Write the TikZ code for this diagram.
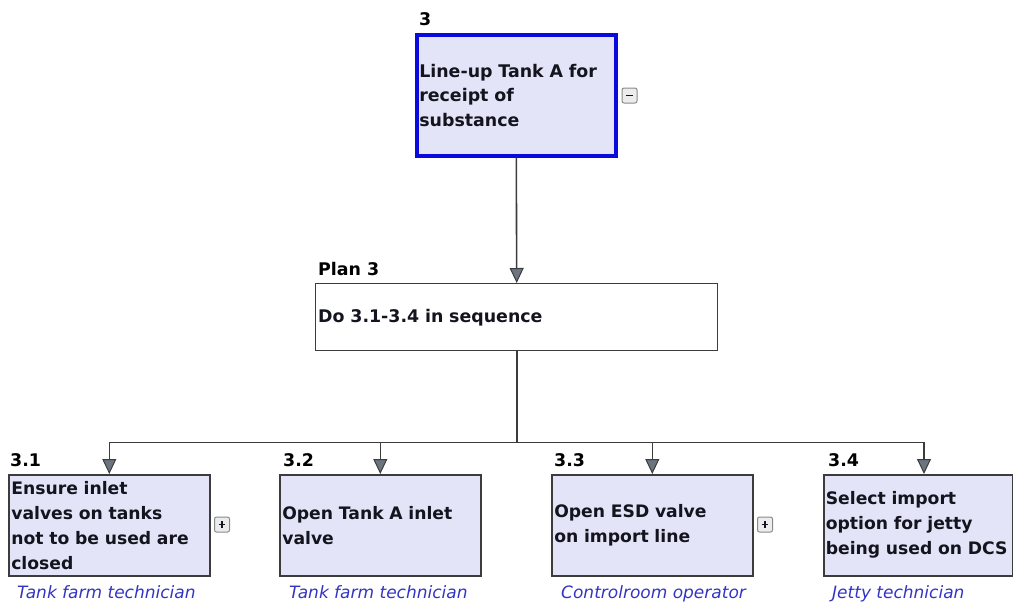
\documentclass[tikz,border=0pt]{standalone}
\usepackage{fontspec}
\setmainfont{DejaVu Sans}
\usetikzlibrary{arrows.meta,calc}
\definecolor{boxfill}{HTML}{E4E4F8}
\definecolor{boxline}{HTML}{3C3C3C}
\definecolor{topline}{HTML}{0A0ADC}
\definecolor{ink}{HTML}{14141E}
\definecolor{rolecol}{HTML}{3434C4}
\definecolor{tipgray}{HTML}{6C7480}
\definecolor{iconfill}{HTML}{ECECEC}
\definecolor{iconline}{HTML}{8A8A8A}
\tikzset{
  task/.style={draw=boxline, line width=1.6pt, fill=boxfill, anchor=north west,
    inner xsep=2.5pt, inner ysep=0pt, align=left, text=ink,
    font=\bfseries\fontsize{17.2}{25}\selectfont},
  childbox/.style={task, text width=196pt, minimum height=101pt},
  planbox/.style={draw=boxline, line width=1.4pt, fill=white, anchor=north west,
    inner xsep=2.5pt, inner ysep=0pt, align=left, text=ink, text width=397pt,
    minimum height=67pt, font=\bfseries\fontsize{17.4}{25}\selectfont},
  numlabel/.style={anchor=base west, inner sep=0pt, text=black,
    font=\bfseries\fontsize{17.4}{20}\selectfont},
  role/.style={anchor=base west, inner sep=0pt, text=rolecol,
    font=\itshape\fontsize{17}{20}\selectfont},
  link/.style={draw=boxline, line width=1.6pt},
  arrowlink/.style={link, -{Triangle[width=14pt,length=15pt,fill=tipgray,line width=1pt]}},
  toggle/.style={draw=iconline, fill=iconfill, line width=1pt, rounded corners=2pt,
    minimum size=15pt, inner sep=0pt, text=ink},
}
\begin{document}
\begin{tikzpicture}[x=1pt,y=-1pt]
\useasboundingbox (0,0) rectangle (1013,603);

% top task
\node[task, draw=topline, line width=3.6pt, text width=194pt, minimum height=121pt,
  font=\bfseries\fontsize{17.4}{24.5}\selectfont]
  (t3) at (415,33) {Line-up Tank A for\\receipt of\\substance};
\node[numlabel] (t3num) at (419,25) {3};
\node[toggle] (t3tog) at (629.5,95.5) {};
\draw[ink, line width=1.5pt] ($(t3tog.center)+(-3.5,0)$) -- ($(t3tog.center)+(3.5,0)$);

% plan
\node[planbox] (plan) at (315,283) {Do 3.1-3.4 in sequence};
\node[numlabel] (plannum) at (318,275) {Plan 3};

% subtasks
\node[childbox] (c1) at (8,474) {Ensure inlet\\valves on tanks\\not to be used are\\closed};
\node[childbox] (c2) at (279,474) {Open Tank A inlet\\valve};
\node[childbox] (c3) at (551,474) {Open ESD valve\\on import line};
\node[task, inner xsep=2pt, text width=185pt, minimum height=101pt] (c4) at (823,474)
  {Select import\\option for jetty\\being used on DCS};

\node[numlabel] (n1) at (10,466) {3.1};
\node[numlabel] (n2) at (283,466) {3.2};
\node[numlabel] (n3) at (554,466) {3.3};
\node[numlabel] (n4) at (828,466) {3.4};

\node[role] (r1) at (17,598.5) {Tank farm technician};
\node[role] (r2) at (289,598.5) {Tank farm technician};
\node[role] (r3) at (561,598.5) {Controlroom operator};
\node[role] (r4) at (832,598.5) {Jetty technician};

\node[toggle] (c1tog) at (222,524.5) {};
\node[toggle] (c3tog) at (765,524.5) {};
\foreach \t in {c1tog,c3tog}{
  \draw[ink, line width=1.4pt] ($(\t.center)+(-3.4,0)$) -- ($(\t.center)+(3.4,0)$);
  \draw[ink, line width=1.4pt] ($(\t.center)+(0,-3.4)$) -- ($(\t.center)+(0,3.4)$);
}

% connectors
\coordinate (bus) at ($(plan.south)+(0,91)$);
\coordinate (c4in) at ($(c4.north west)+(101,0)$);
\draw[arrowlink] (t3.south) -- (plan.north);
\draw[link] (plan.south) -- (bus);
\draw[arrowlink] (bus) -| (c1.north);
\draw[arrowlink] (bus) -| (c2.north);
\draw[arrowlink] (bus) -| (c3.north);
\draw[arrowlink] (bus) -| (c4in);
\end{tikzpicture}
\end{document}
